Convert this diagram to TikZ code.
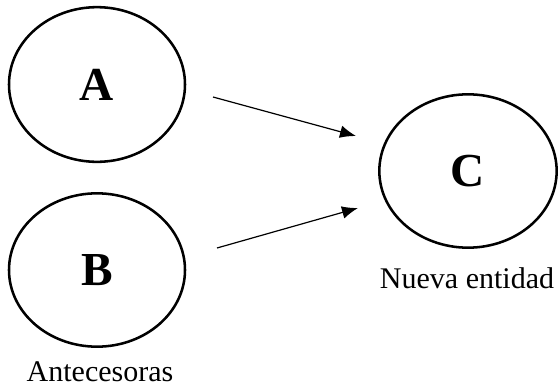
\documentclass[tikz,border=0pt]{standalone}
\usepackage{fontspec}
\setmainfont{Liberation Serif}
\usetikzlibrary{shapes.geometric,arrows.meta}

\tikzset{
    entidad/.style={draw, ellipse, line width=1.9pt, minimum width=132pt, minimum height=115pt,
        inner sep=0pt, font=\fontsize{35.5}{40}\selectfont\bfseries},
    rotulo/.style={font=\fontsize{22.5}{26}\selectfont},
    flecha/.style={-{Latex[length=12pt,width=9.5pt]}, line width=0.9pt}
}

\begin{document}
\begin{tikzpicture}[x=0.75pt, y=0.75pt]
            \useasboundingbox (0, 0) rectangle (558, 387);
            % antecesoras
            \node[entidad, minimum height=116pt] (A) at (97, 302.5) {A};
            \node[entidad] (B) at (97, 117) {B};
            % nueva entidad
            \node[entidad, minimum width=133pt] (C) at (468, 216) {C};

            \node[rotulo] (antecesoras) at (100, 15) {Antecesoras};
            \node[rotulo] (nueva) at (467, 109) {Nueva entidad};

            \coordinate (A-sal) at (213, 290);
            \coordinate (B-sal) at (217, 139);
            \coordinate (C-ent1) at (356, 251);
            \coordinate (C-ent2) at (358, 179);
            \draw[flecha] (A-sal) -- (C-ent1);
            \draw[flecha] (B-sal) -- (C-ent2);
        \end{tikzpicture}
\end{document}
